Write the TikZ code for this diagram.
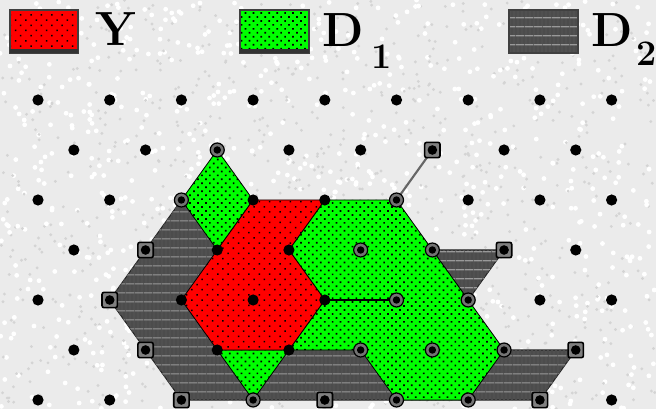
\documentclass[tikz,border=0pt]{standalone}
\usetikzlibrary{patterns.meta}
\definecolor{bgc}{HTML}{EBEBEB}
\definecolor{grayc}{HTML}{505050}
\tikzset{
 x=0.75pt,y=-0.75pt,
 redfill/.style={fill=red,draw=black,line width=.6pt},
 greenfill/.style={fill=green,draw=black,line width=.6pt},
 grayfill/.style={fill=grayc,draw=black!85,line width=.8pt},
 reddots/.style={pattern={Dots[distance=5.5pt,angle=45,radius=.8pt]},pattern color=black},
 greendots/.style={pattern={Dots[distance=4.2pt,angle=45,radius=.9pt]},pattern color=black},
 grayh/.style={pattern={Lines[distance=6.5pt,angle=0,line width=.8pt]},pattern color=black!40},
 grayv/.style={pattern={Lines[distance=3pt,angle=90,line width=1pt]},pattern color=black!70},
 dotm/.style={circle,fill=black,inner sep=0pt,minimum size=8.4pt},
 ringm/.style={circle,draw=black,line width=.9pt,fill=black!55,inner sep=0pt,minimum size=10.5pt,path picture={\fill[black] (path picture bounding box.center) circle (2.8pt);}},
 squarem/.style={rectangle,rounded corners=1.5pt,draw=black,line width=1.2pt,fill=black!50,inner sep=0pt,minimum size=11.5pt,path picture={\fill[black] (path picture bounding box.center) circle (3.6pt);}},
 legtext/.style={inner sep=0pt,anchor=base west,font=\fontsize{36}{36}\selectfont\bfseries,text=black},
 legsub/.style={inner sep=0pt,anchor=base west,font=\fontsize{27}{27}\selectfont\bfseries,text=black},
 legbox/.style={draw=black!75,line width=.8pt},
}
\begin{document}
\begin{tikzpicture}
\useasboundingbox (0,0) rectangle (656,409);
\fill[bgc] (0,0) rectangle (656,409);
% paper texture
\pgfmathsetseed{7}
\foreach \k in {1,...,900}{
  \pgfmathsetmacro{\xx}{rnd*656}\pgfmathsetmacro{\yy}{rnd*409}
  \fill[black!17] (\xx,\yy) circle (1.6);
  \pgfmathsetmacro{\xu}{rnd*656}\pgfmathsetmacro{\yu}{rnd*409}
  \fill[white] (\xu,\yu) circle (2.4);
}
% grid positions
\foreach \r in {0,...,6}{
  \foreach \i in {0,...,16}{
    \coordinate (n\i-\r) at ({38+35.85*\i},{100+50*\r});
  }
}
% regions
\foreach \st in {grayfill,grayv,grayh}{
  \path[\st] (n2-4)--(n4-2)--(n8-4)--(n13-5)--(n15-5)--(n14-6)--(n4-6)--cycle;
  \path[\st] (n11-3)--(n13-3)--(n12-4)--cycle;
}
\foreach \st in {greenfill,greendots}{
  \path[\st] (n5-1)--(n6-2)--(n5-3)--(n4-2)--cycle;
  \path[\st] (n5-5)--(n7-5)--(n6-6)--cycle;
  \path[\st] (n8-2)--(n10-2)--(n13-5)--(n12-6)--(n10-6)--(n9-5)--(n7-5)--(n8-4)--(n7-3)--cycle;
}
\foreach \st in {redfill,reddots}{
  \path[\st] (n4-4)--(n6-2)--(n8-2)--(n7-3)--(n8-4)--(n7-5)--(n5-5)--cycle;
}
% connectors
\draw[black,line width=1pt] (n8-4)--(n10-4);
\draw[black!60,line width=1.6pt] (n10-2)--(n11-1);
% plain grid dots
\foreach \i/\r in {0/0,2/0,4/0,6/0,8/0,10/0,12/0,14/0,16/0,
 1/1,3/1,7/1,9/1,13/1,15/1,
 0/2,2/2,6/2,8/2,12/2,14/2,16/2,
 1/3,5/3,7/3,15/3,
 0/4,4/4,6/4,8/4,14/4,16/4,
 1/5,5/5,7/5,
 0/6,2/6,16/6}{
  \node[dotm] (d\i-\r) at (n\i-\r) {};
}
\foreach \i/\r in {5/1,4/2,10/2,9/3,11/3,10/4,12/4,9/5,11/5,13/5,6/6,10/6,12/6}{
  \node[ringm] (r\i-\r) at (n\i-\r) {};
}
\foreach \i/\r in {11/1,3/3,13/3,2/4,3/5,15/5,4/6,8/6,14/6}{
  \node[squarem] (s\i-\r) at (n\i-\r) {};
}
% legend
\foreach \st in {redfill,reddots}{ \path[\st,legbox] (10,10) rectangle (78,53); }
\foreach \st in {greenfill,greendots}{ \path[\st,legbox] (240,10) rectangle (309,53); }
\foreach \st in {grayfill,grayv,grayh}{ \path[\st,legbox] (509,10) rectangle (578,53); }
\fill[black!80] (10,49) rectangle (78,53);
\fill[black!80] (240,49) rectangle (309,53);
\node[legtext] (ly) at (95,46) {Y};
\node[legtext] (ld1) at (322,47) {D};
\node[legsub] (ls1) at (371,69) {1};
\node[legtext] (ld2) at (591,47) {D};
\node[legsub] (ls2) at (636,66) {2};
\end{tikzpicture}
\end{document}
